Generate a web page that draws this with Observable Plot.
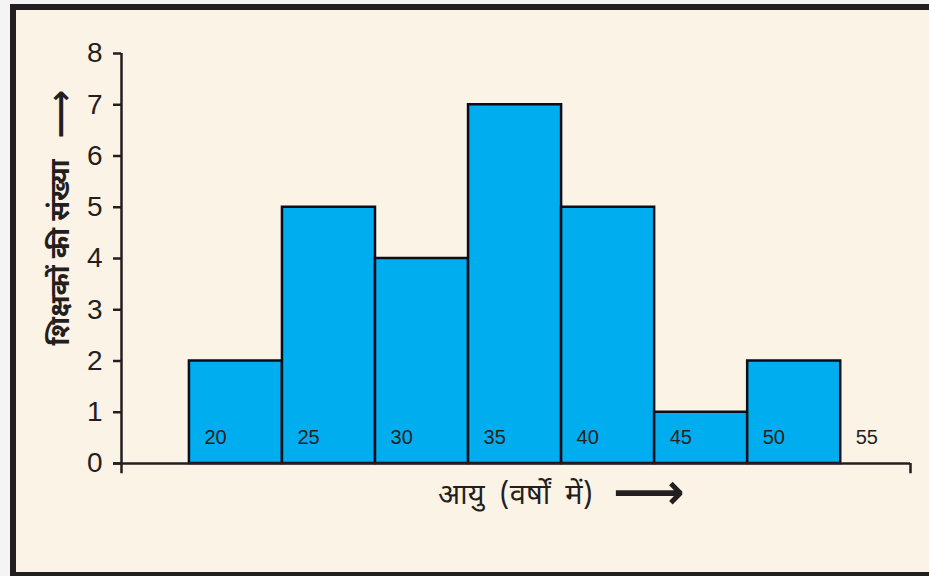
<!DOCTYPE html>
<html>
<head>
<meta charset="utf-8">
<script src="https://cdn.jsdelivr.net/npm/d3@7"></script>
<script src="https://cdn.jsdelivr.net/npm/@observablehq/plot@0.6"></script>
<style>
  html, body { margin: 0; padding: 0; background: #ffffff; }
  #page { position: relative; width: 929px; height: 576px; overflow: hidden; background: #f4f4f4; }
  #panel { position: absolute; left: 10px; top: 4px; width: 940px; height: 562px;
           border: 6px solid #231f20; background: #fcf3e7; }
  #chart { position: absolute; left: 0; top: 0; }
  #chart svg { background: transparent !important; }
</style>
</head>
<body>
<div id="page">
  <div id="panel"></div>
  <div id="chart"></div>
</div>
<script>
// Data
const ageClassStarts = [20, 25, 30, 35, 40, 45, 50];
const classWidth = 5;
const teacherCounts = [2, 5, 4, 7, 5, 1, 2];
const xTickValues = [20, 25, 30, 35, 40, 45, 50, 55];
const xTickLabels = ["20", "25", "30", "35", "40", "45", "50", "55"];
const yTicks = [0, 1, 2, 3, 4, 5, 6, 7, 8];
const xLabel = "आयु  (वर्षों  में)";
const yLabel = "शिक्षकों की संख्या";
const arrowGlyph = "⟶";

const bins = ageClassStarts.map((lo, i) => ({lo, hi: lo + classWidth, count: teacherCounts[i]}));
const xTicks = xTickValues.map((v, i) => ({v, label: xTickLabels[i]}));

const xMin = 16.35, xMax = 58.75;
const ink = "#231f20";
const numFont = "'Liberation Sans', Arial, sans-serif";
const hindiFont = "'Noto Sans Devanagari', 'Noto Sans', 'Lohit Devanagari', 'FreeSans', sans-serif";

const chart = Plot.plot({
  width: 929,
  height: 576,
  marginLeft: 121,
  marginRight: 19,
  marginTop: 53,
  marginBottom: 113,
  style: {background: "transparent", fontFamily: numFont, color: ink},
  x: {domain: [xMin, xMax], axis: null},
  y: {domain: [0, 8], axis: null},
  marks: [
    Plot.rectY(bins, {x1: "lo", x2: "hi", y1: 0, y2: "count", fill: "#00aeef", stroke: "#0d0d1a", strokeWidth: 2.5}),
    // y axis line (extends a little below the x axis)
    Plot.ruleX([xMin], {y1: -0.2, y2: 8, stroke: ink, strokeWidth: 2.5}),
    // x axis line (extends left past the y axis) with end tick
    Plot.ruleY([0], {x1: xMin - 0.43, x2: xMax, stroke: ink, strokeWidth: 2.5}),
    Plot.ruleX([xMax], {y1: -0.2, y2: 0, stroke: ink, strokeWidth: 2.5}),
    Plot.axisY(yTicks, {anchor: "left", tickSize: 8, tickPadding: 11, tickFormat: "d", fontSize: 28, strokeWidth: 2.5, stroke: ink, fill: ink, label: null}),
    Plot.text(xTicks, {x: "v", text: "label", frameAnchor: "bottom", textAnchor: "start", lineAnchor: "middle", dx: 15, dy: -26, fontSize: 20, fill: ink}),
    Plot.text([xLabel], {frameAnchor: "bottom", textAnchor: "start", lineAnchor: "middle", dx: -78, dy: 31, fontSize: 29, fontFamily: hindiFont, fill: ink}),
    Plot.text([arrowGlyph], {frameAnchor: "bottom", textAnchor: "start", lineAnchor: "middle", dx: 97, dy: 29, fontSize: 50, fontWeight: "bold", fontFamily: "'DejaVu Sans', sans-serif", fill: ink}),
    Plot.text([yLabel], {frameAnchor: "left", textAnchor: "start", lineAnchor: "middle", rotate: -90, dx: -61, dy: 87, fontSize: 27, fontWeight: "bold", fontFamily: hindiFont, fill: ink}),
    Plot.text([arrowGlyph], {frameAnchor: "left", textAnchor: "start", lineAnchor: "middle", rotate: -90, dx: -60, dy: -120, fontSize: 34, fontWeight: "bold", fontFamily: "'DejaVu Sans', sans-serif", fill: ink})
  ]
});
document.getElementById("chart").appendChild(chart);
</script>
</body>
</html>
